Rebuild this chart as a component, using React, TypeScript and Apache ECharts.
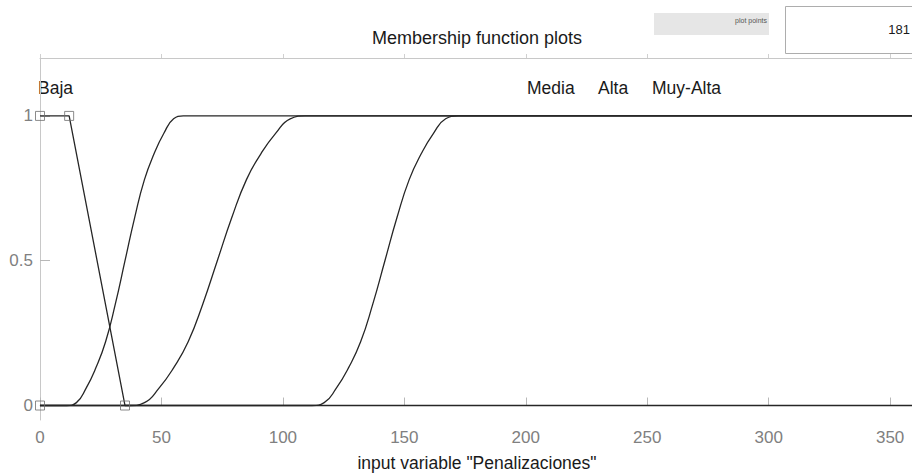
import React, { useEffect, useRef } from "react";
import * as echarts from "echarts";

// Tick values
const xTicks = [0, 50, 100, 150, 200, 250, 300, 350];
const yTicks = [0, 0.5, 1];

// Membership function names
const mfNames = ["Baja", "Media", "Alta", "Muy-Alta"];

// Baja (trapezoid) points
const bajaX = [0, 12, 35, 359];
const bajaY = [1, 1, 0, 0];

// Media (S-shaped) points
const mediaX = [0, 11, 15, 19, 23, 27, 31, 35, 39, 43, 47, 51, 55, 59, 359];
const mediaY = [0, 0, 0.01, 0.06, 0.13, 0.22, 0.35, 0.5, 0.65, 0.78, 0.87, 0.94, 0.99, 1, 1];

// Alta (S-shaped) points
const altaX = [0, 37, 43, 49, 55, 61, 67, 73, 79, 85, 91, 97, 103, 109, 359];
const altaY = [0, 0, 0.01, 0.06, 0.13, 0.22, 0.35, 0.5, 0.65, 0.78, 0.87, 0.94, 0.99, 1, 1];

// Muy-Alta (S-shaped) points
const muyAltaX = [0, 112, 117, 122, 127, 132, 137, 142, 147, 152, 157, 162, 167, 172, 359];
const muyAltaY = [0, 0, 0.01, 0.06, 0.13, 0.22, 0.35, 0.5, 0.65, 0.78, 0.87, 0.94, 0.99, 1, 1];

// Parameter markers of the selected MF (Baja)
const markerX = [0, 0, 12, 35];
const markerY = [0, 1, 1, 0];

const plotPoints = "181";

const FONT = '"Liberation Sans", Arial, Helvetica, sans-serif';

function zip(xs: number[], ys: number[]) {
  return xs.map((x, i) => [x, ys[i]]);
}

export default function App() {
  const ref = useRef<HTMLDivElement>(null);
  useEffect(() => {
    if (!ref.current) return;
    const chart = echarts.init(ref.current, null, { renderer: "svg" });
    const lineStyle = { color: "#262626", width: 1.3 };
    const curve = (name: string, xs: number[], ys: number[], smooth: number | boolean) => ({
      type: "line",
      name,
      data: zip(xs, ys),
      showSymbol: false,
      smooth,
      lineStyle,
      silent: true,
      z: 3,
    });
    const axisGray = "#c8c8c8";
    chart.setOption({
      animation: false,
      backgroundColor: "#ffffff",
      textStyle: { fontFamily: FONT },
      grid: { left: 40, top: 58, right: 0, bottom: 53, containLabel: false },
      xAxis: [
        {
          type: "value",
          min: 0,
          max: 359,
          position: "bottom",
          axisLine: { show: true, lineStyle: { color: axisGray, width: 1 } },
          axisTick: { show: true, inside: true, length: 8, customValues: xTicks, lineStyle: { color: "#b8b8b8" } },
          axisLabel: { show: true, customValues: xTicks, color: "#808080", fontSize: 17, margin: 9, fontFamily: FONT },
          splitLine: { show: false },
        },
        {
          type: "value",
          min: 0,
          max: 359,
          position: "top",
          axisLine: { show: true, onZero: false, lineStyle: { color: axisGray, width: 1 } },
          axisTick: { show: true, inside: false, length: 4, customValues: xTicks, lineStyle: { color: "#d0d0d0" } },
          axisLabel: { show: false },
          splitLine: { show: false },
        },
      ],
      yAxis: {
        type: "value",
        min: -0.05,
        max: 1.2,
        axisLine: { show: true, onZero: false, lineStyle: { color: axisGray, width: 1 } },
        axisTick: { show: true, inside: true, length: 10, customValues: yTicks, lineStyle: { color: "#b8b8b8" } },
        axisLabel: { show: true, customValues: yTicks, color: "#808080", fontSize: 17, margin: 7, fontFamily: FONT },
        splitLine: { show: false },
      },
      series: [
        curve(mfNames[0], bajaX, bajaY, false),
        curve(mfNames[1], mediaX, mediaY, 0.5),
        curve(mfNames[2], altaX, altaY, 0.5),
        curve(mfNames[3], muyAltaX, muyAltaY, 0.5),
        {
          type: "scatter",
          data: zip(markerX, markerY),
          symbol: "rect",
          symbolSize: 9,
          itemStyle: { color: "rgba(0,0,0,0)", borderColor: "#6e6e6e", borderWidth: 1 },
          silent: true,
          z: 5,
        },
      ],
      graphic: [
        {
          type: "text",
          x: 477,
          y: 38,
          style: {
            text: "Membership function plots",
            fill: "#1a1a1a",
            font: `18px ${FONT}`,
            align: "center",
            verticalAlign: "middle",
          },
        },
        {
          type: "text",
          x: 477,
          y: 463,
          style: {
            text: 'input variable "Penalizaciones"',
            fill: "#1a1a1a",
            font: `17.5px ${FONT}`,
            align: "center",
            verticalAlign: "middle",
          },
        },
        { type: "text", x: 38, y: 88, style: { text: mfNames[0], fill: "#1a1a1a", font: `17.5px ${FONT}`, align: "left", verticalAlign: "middle" } },
        { type: "text", x: 527, y: 88, style: { text: mfNames[1], fill: "#1a1a1a", font: `17.5px ${FONT}`, align: "left", verticalAlign: "middle" } },
        { type: "text", x: 598, y: 88, style: { text: mfNames[2], fill: "#1a1a1a", font: `17.5px ${FONT}`, align: "left", verticalAlign: "middle" } },
        { type: "text", x: 652, y: 88, style: { text: mfNames[3], fill: "#1a1a1a", font: `17.5px ${FONT}`, align: "left", verticalAlign: "middle" } },
        {
          type: "rect",
          shape: { x: 654, y: 13, width: 115, height: 22 },
          style: { fill: "#e6e6e6", stroke: "none" },
        },
        {
          type: "text",
          x: 767,
          y: 20,
          style: { text: "plot points", fill: "#555555", font: `7px ${FONT}`, align: "right", verticalAlign: "middle" },
        },
        {
          type: "rect",
          shape: { x: 785.5, y: 6.5, width: 140, height: 47 },
          style: { fill: "#ffffff", stroke: "#adadad", lineWidth: 1 },
        },
        {
          type: "text",
          x: 910,
          y: 29,
          style: { text: plotPoints, fill: "#1a1a1a", font: `13px ${FONT}`, align: "right", verticalAlign: "middle" },
        },
      ],
    });
    return () => chart.dispose();
  }, []);
  return (
    <div
      ref={ref}
      style={{ position: "fixed", left: 0, top: 0, width: 912, height: 473, background: "#fff" }}
    />
  );
}
